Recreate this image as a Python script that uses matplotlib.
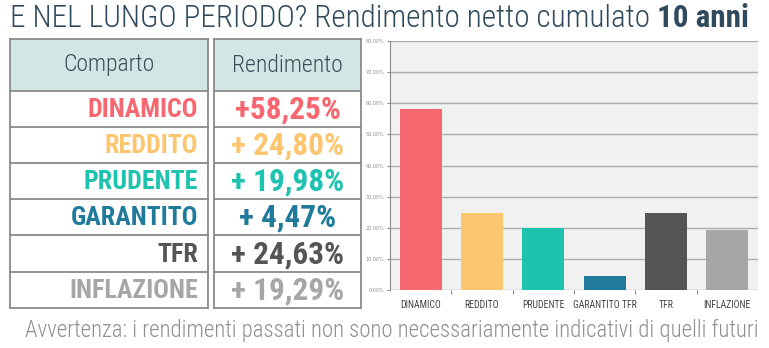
import matplotlib
matplotlib.use("Agg")
import matplotlib.pyplot as plt
from matplotlib.patches import Rectangle
from matplotlib.ticker import FixedLocator, FuncFormatter

# Data
categories = ["DINAMICO", "REDDITO", "PRUDENTE", "GARANTITO TFR", "TFR", "INFLAZIONE"]
row_labels = ["DINAMICO", "REDDITO", "PRUDENTE", "GARANTITO", "TFR", "INFLAZIONE"]
values = [58.25, 24.80, 19.98, 4.47, 24.63, 19.29]
value_labels = ["+58,25%", "+ 24,80%", "+ 19,98%", "+ 4,47%", "+ 24,63%", "+ 19,29%"]
colors = ["#f7676f", "#fec56f", "#1ec3b0", "#1f7a9b", "#555555", "#a6a6a6"]
yticks = [0, 10, 20, 30, 40, 50, 60, 70, 80]

FONT = "Roboto Condensed"
W, H = 769, 348
fig = plt.figure(figsize=(W / 100, H / 100), dpi=100)
fig.patch.set_facecolor("white")


def fx(x):
    return x / W


def fy(y):
    return 1 - y / H


renderer = fig.canvas.get_renderer()


def text_width(t):
    return t.get_window_extent(renderer=renderer).width


# Title: light part followed by bold part, fitted to span the top line
title_color = "#2e4a5c"
t1 = fig.text(fx(10), fy(27), "E NEL LUNGO PERIODO? Rendimento netto cumulato ",
              family=FONT, weight="light", fontsize=22, color=title_color, va="baseline")
t2 = fig.text(0, fy(27), "10 anni", family=FONT, weight="bold", fontsize=22,
              color=title_color, va="baseline")
total = text_width(t1) + text_width(t2)
scale = (750 - 10) / total
for t in (t1, t2):
    t.set_fontsize(22 * scale)
t2.set_x(fx(10 + text_width(t1)))

# Table: two boxed columns
border = "#8a8a8a"
header_bg = "#d3e6e6"
header_fg = "#3b4d57"
cols = [(10, 208), (214, 361)]
row_edges = [39, 91, 127, 163, 199, 235, 272, 308]

for (x0, x1) in cols:
    fig.patches.append(Rectangle((fx(x0), fy(row_edges[1])), fx(x1 - x0),
                                 (row_edges[1] - row_edges[0]) / H,
                                 transform=fig.transFigure, facecolor=header_bg,
                                 edgecolor="none", zorder=1))
    for y in row_edges:
        fig.add_artist(plt.Line2D([fx(x0), fx(x1)], [fy(y), fy(y)],
                                  transform=fig.transFigure, color=border, lw=1.3, zorder=3))
    for x in (x0, x1):
        fig.add_artist(plt.Line2D([fx(x), fx(x)], [fy(row_edges[0]), fy(row_edges[-1])],
                                  transform=fig.transFigure, color=border, lw=1.3, zorder=3))

hy = (row_edges[0] + row_edges[1]) / 2
fig.text(fx(109), fy(hy), "Comparto", family=FONT, weight="light", fontsize=17,
         color=header_fg, ha="center", va="center")
fig.text(fx(287.5), fy(hy), "Rendimento", family=FONT, weight="light", fontsize=17,
         color=header_fg, ha="center", va="center")

for i, (lab, val, c) in enumerate(zip(row_labels, value_labels, colors)):
    yc = (row_edges[i + 1] + row_edges[i + 2]) / 2
    fig.text(fx(198), fy(yc + 1), lab, family=FONT, weight="bold", fontsize=18.7,
             color=c, ha="right", va="center")
    fig.text(fx(287.5), fy(yc + 1), val, family=FONT, weight="bold", fontsize=22.5,
             color=c, ha="center", va="center")

# Bar chart
ax = fig.add_axes([fx(390), fy(290), fx(368), 249 / H])
ax.set_facecolor("#f1f1f1")
x = list(range(len(categories)))
ax.bar(x, values, width=0.68, color=colors, zorder=3)
ax.set_xlim(-0.5, len(categories) - 0.5)
ax.set_ylim(0, 80)
ax.set_yticks(yticks)
ax.yaxis.set_major_formatter(FuncFormatter(lambda v, _: f"{v:.2f}%"))
ax.grid(axis="y", color="#adadad", lw=1, zorder=1)
ax.set_axisbelow(True)
for s in ("top", "right", "bottom"):
    ax.spines[s].set_visible(False)
ax.spines["left"].set_color("#8a8a8a")
ax.tick_params(axis="y", labelsize=3.5, labelcolor="#8c8c8c", length=2, color="#8a8a8a", pad=2)

ax.xaxis.set_major_locator(FixedLocator([i + 0.5 for i in range(len(categories) - 1)]))
ax.xaxis.set_major_formatter(FuncFormatter(lambda v, _: ""))
ax.xaxis.set_minor_locator(FixedLocator(x))
ax.set_xticks(x, categories, minor=True)
ax.tick_params(axis="x", which="major", length=3, color="#8a8a8a")
ax.tick_params(axis="x", which="minor", length=0, pad=7, labelsize=7, labelcolor="#444444")
for lab in ax.get_xticklabels(minor=True):
    lab.set_family(FONT)

# Footer note fitted to its line
f = fig.text(fx(25), fy(330), "Avvertenza: i rendimenti passati non sono necessariamente indicativi di quelli futuri",
             family=FONT, weight="light", fontsize=14, color="#8f8f8f", va="center")
f.set_fontsize(14 * (760 - 25) / text_width(f))

fig.savefig("out.png", dpi=100, facecolor="white")
